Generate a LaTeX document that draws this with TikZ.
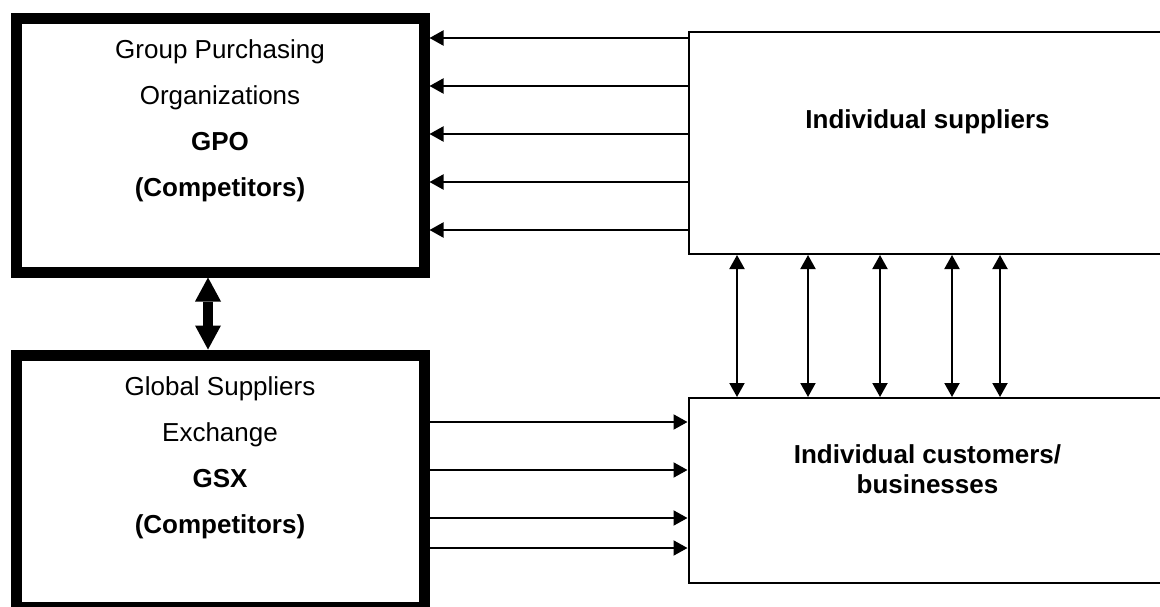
\documentclass[tikz,border=0pt]{standalone}
\usepackage{fontspec}
\setmainfont{Liberation Sans}
\usetikzlibrary{arrows.meta}

\tikzset{every picture/.style={line width=2pt}}

\begin{document}
\begin{tikzpicture}[x=1pt,y=1pt,yscale=-1,xscale=1,
	heavybox/.style={draw,line width=11pt,minimum width=408pt,inner sep=0pt},
	plainbox/.style={draw,line width=2pt,minimum width=478pt,inner sep=0pt},
	boxtext/.style={inner sep=0pt,align=center,font=\fontsize{26}{46}\selectfont},
	flow/.style={-{Triangle[length=14pt,width=15pt]}},
	twoway/.style={{Triangle[length=14pt,width=15pt]}-{Triangle[length=14pt,width=15pt]}},
	fat/.style={line width=10pt,{Triangle[length=24pt,width=26pt,line width=0pt]}-{Triangle[length=24pt,width=26pt,line width=0pt]}}]
	\useasboundingbox (0,0) rectangle (1160,607);
	\clip (0,0) rectangle (1160,607);

	%Shape: Rectangle [GPO]
	\node [heavybox, minimum height=253pt] (gpo) at (220,145.5) {};
	%Shape: Rectangle [GSX]
	\node [heavybox, minimum height=252pt] (gsx) at (220,481) {};
	%Shape: Rectangle [suppliers]
	\node [plainbox, minimum height=222pt] (sup) at (927.5,143) {};
	%Shape: Rectangle [customers]
	\node [plainbox, minimum height=185pt] (cus) at (927.5,490.5) {};

	% Text Node
	\node [boxtext] (gpotext) at (220,121) {Group Purchasing\\Organizations\\\textbf{GPO}\\\textbf{(Competitors)}};
	% Text Node
	\node [boxtext] (gsxtext) at (220,458) {Global Suppliers\\Exchange\\\textbf{GSX}\\\textbf{(Competitors)}};
	% Text Node
	\node [boxtext] (suptext) at (927.5,122) {\textbf{Individual suppliers}};
	% Text Node
	\node [boxtext, font=\fontsize{26}{30}\selectfont] (custext) at (927.5,469.5) {\textbf{Individual customers/}\\\textbf{businesses}};

	%Straight Lines [suppliers to GPO]
	\foreach \yy in {38,86,134,182,230}
		\draw [flow] (sup.west |- 0,\yy) -- (gpo.east |- 0,\yy);
	%Straight Lines [GSX to customers]
	\foreach \yy in {422,470,518,548}
		\draw [flow] (gsx.east |- 0,\yy) -- (cus.west |- 0,\yy);
	%Straight Lines [suppliers and customers]
	\foreach \xx in {737,808,880,952,1000}
		\draw [twoway] (sup.south -| \xx,0) -- (cus.north -| \xx,0);
	%Straight Lines [GPO and GSX]
	\draw [fat] (gpo.south -| 208,0) -- (gsx.north -| 208,0);

\end{tikzpicture}
\end{document}
